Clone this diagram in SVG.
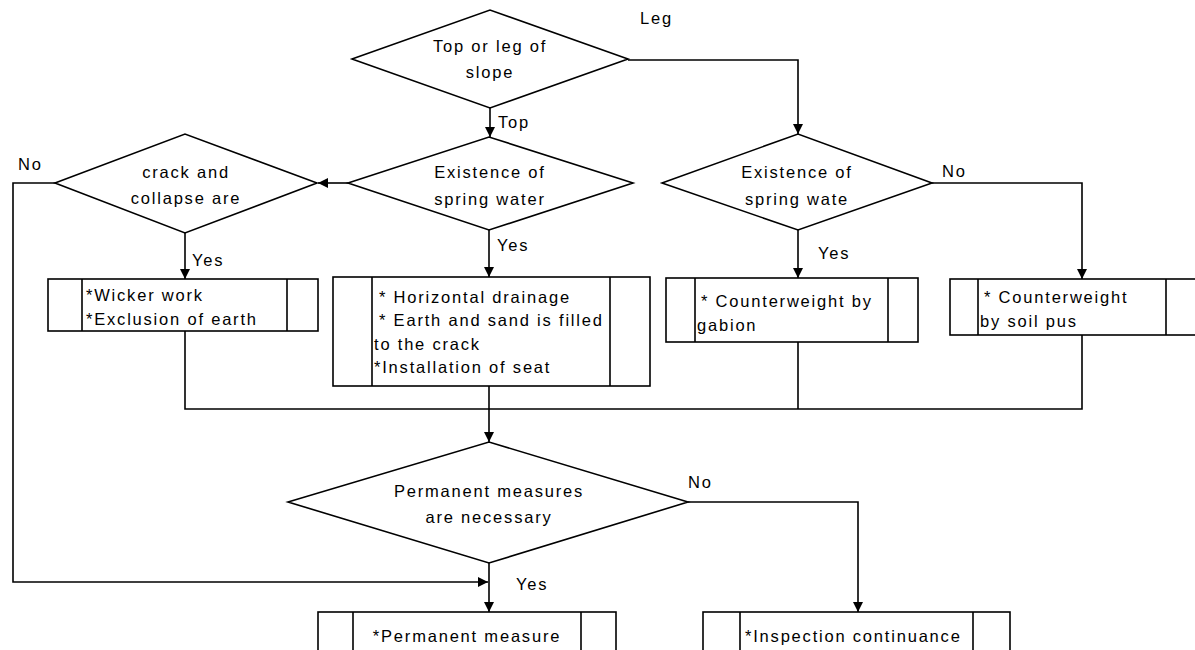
<svg xmlns="http://www.w3.org/2000/svg" width="1195" height="650" viewBox="0 0 1195 650">
<defs>
<marker id="arr" markerUnits="userSpaceOnUse" markerWidth="10" markerHeight="10" refX="10" refY="5" orient="auto">
<path d="M0,0 L10,5 L0,10 z" fill="#000"/>
</marker>
<style>
.s{fill:#fff;stroke:#000;stroke-width:1.6}
.c{fill:none;stroke:#000;stroke-width:1.6}
.a{fill:none;stroke:#000;stroke-width:1.6;marker-end:url(#arr)}
text{font-family:"Liberation Sans",Arial,sans-serif;font-size:16.5px;fill:#000;letter-spacing:1.8px}
.m{text-anchor:middle}
</style>
</defs>
<rect width="1195" height="650" fill="#fff"/>
<g id="connectors">
<path class="a" d="M490,108 V137"/>
<path class="a" d="M628,60 H798 V134"/>
<path class="a" d="M348,183 H318"/>
<path class="a" d="M55,183 H13 V582 H488"/>
<path class="a" d="M185,233 V279"/>
<path class="a" d="M489,230 V277"/>
<path class="a" d="M798,230 V278"/>
<path class="a" d="M932,183 H1082 V279"/>
<path class="c" d="M185,331 V409 H1082 V335 M798,342 V409"/>
<path class="a" d="M489,386 V442"/>
<path class="a" d="M489,563 V612"/>
<path class="a" d="M688,502 H858 V612"/>
<text x="640" y="24">Leg</text>
<text x="498" y="128">Top</text>
<text x="18" y="170">No</text>
<text x="192" y="266">Yes</text>
<text x="497" y="251">Yes</text>
<text x="818" y="259">Yes</text>
<text x="942" y="177">No</text>
<text x="688" y="488">No</text>
<text x="516" y="590">Yes</text>
</g>
<g id="d1">
<polygon class="s" points="352,59 490,10 628,59 490,108"/>
<text class="m" x="490" y="52">Top or leg of</text>
<text class="m" x="490" y="78">slope</text>
</g>
<g id="dA">
<polygon class="s" points="55,183 185,134 317,183 185,233"/>
<text class="m" x="186" y="178">crack and</text>
<text class="m" x="186" y="204">collapse are</text>
</g>
<g id="d2">
<polygon class="s" points="348,183 489,137 633,183 489,230"/>
<text class="m" x="490" y="178">Existence of</text>
<text class="m" x="490" y="205">spring water</text>
</g>
<g id="d3">
<polygon class="s" points="662,183 798,134 932,183 798,230"/>
<text class="m" x="797" y="178">Existence of</text>
<text class="m" x="797" y="205">spring wate</text>
</g>
<g id="b1">
<rect class="s" x="48" y="279" width="270" height="52"/>
<path class="c" d="M82,279 V331 M287,279 V331"/>
<text x="86" y="301">*Wicker work</text>
<text x="86" y="325">*Exclusion of earth</text>
</g>
<g id="b2">
<rect class="s" x="333" y="277" width="317" height="109"/>
<path class="c" d="M372,277 V386 M610,277 V386"/>
<text x="379" y="303">* Horizontal drainage</text>
<text x="379" y="326">* Earth and sand is filled</text>
<text x="374" y="350">to the crack</text>
<text x="374" y="373">*Installation of seat</text>
</g>
<g id="b3">
<rect class="s" x="666" y="278" width="252" height="64"/>
<path class="c" d="M695,278 V342 M888,278 V342"/>
<text x="701" y="307">* Counterweight by</text>
<text x="697" y="331">gabion</text>
</g>
<g id="b4">
<rect class="s" x="950" y="279" width="260" height="56"/>
<path class="c" d="M978,279 V335 M1166,279 V335"/>
<text x="984" y="303">* Counterweight</text>
<text x="980" y="327">by soil pus</text>
</g>
<g id="dP">
<polygon class="s" points="288,502 489,442 688,502 489,563"/>
<text class="m" x="489" y="497">Permanent measures</text>
<text class="m" x="489" y="523">are necessary</text>
</g>
<g id="b5">
<rect class="s" x="318" y="612" width="298" height="50"/>
<path class="c" d="M353,612 V662 M581,612 V662"/>
<text class="m" x="467" y="642">*Permanent measure</text>
</g>
<g id="b6">
<rect class="s" x="703" y="612" width="307" height="50"/>
<path class="c" d="M740,612 V662 M973,612 V662"/>
<text x="745" y="642">*Inspection continuance</text>
</g>
</svg>
